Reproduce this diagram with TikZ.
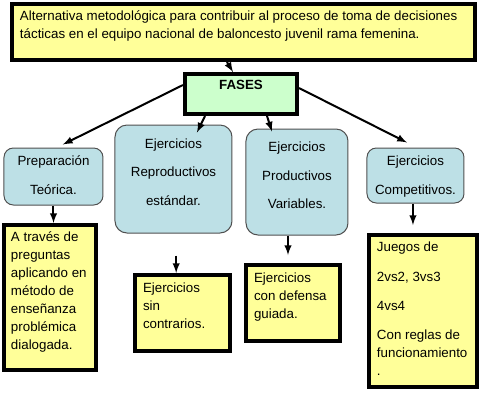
\documentclass[tikz,border=0pt]{standalone}
\usepackage{fontspec}
\setmainfont{Liberation Sans}
\usetikzlibrary{arrows}
\definecolor{amarillo}{RGB}{255,255,153}
\definecolor{verde}{RGB}{204,255,204}
\definecolor{celeste}{RGB}{189,224,230}
\definecolor{gris}{RGB}{80,80,80}
\newcommand{\caja}[3]{\parbox[c][#2][t]{#1}{\raggedright #3}}
\newcommand{\cajac}[3]{\parbox[c][#2][t]{#1}{\centering #3}}
\tikzset{every picture/.style={line width=0.75pt}}
\tikzset{
hoja/.style={draw, line width=3pt, fill=amarillo, inner xsep=6pt, inner ysep=5.25pt, font=\fontsize{10}{13.5}\selectfont},
fase/.style={draw, line width=3pt, fill=verde, inner xsep=0pt, inner ysep=4.5pt, font=\bfseries\fontsize{10}{12}\selectfont},
etapa/.style={draw=gris, line width=0.75pt, fill=celeste, rounded corners=7pt, inner xsep=0pt, font=\fontsize{10}{21.5}\selectfont},
flecha/.style={-latex, line width=1.5pt}}

\begin{document}
\begin{tikzpicture}[x=0.75pt,y=0.75pt,yscale=-1,xscale=1]
\useasboundingbox (0,0) rectangle (480,405);

%Title
\node[hoja] (titulo) at (243.5,32) {\caja{335.25pt}{31.5pt}{Alternativa metodológica para contribuir al proceso de toma de decisiones\\ tácticas en el equipo nacional de baloncesto juvenil rama femenina.}};
%Phases
\node[fase] (fases) at (241,94) {\cajac{84pt}{21pt}{FASES}};

%Level 2
\node[etapa, inner ysep=6pt] (prep) at (53.5,176.5) {\cajac{74.25pt}{30.75pt}{Preparación\\ Teórica.}};
\node[etapa, inner ysep=10pt, rounded corners=9pt] (repro) at (173.5,179) {\cajac{87.75pt}{61pt}{Ejercicios\\ Reproductivos\\ estándar.}};
\node[etapa, inner ysep=9.5pt, rounded corners=9pt] (produ) at (297,182) {\cajac{76.5pt}{60.5pt}{Ejercicios\\ Productivos\\ Variables.}};
\node[etapa, inner ysep=6pt] (compe) at (415.5,175.5) {\cajac{72.75pt}{29.25pt}{Ejercicios\\ Competitivos.}};

%Level 3
\node[hoja, inner xsep=5.25pt] (atraves) at (50,297.5) {\caja{58.5pt}{98.25pt}{A través de\\ preguntas\\ aplicando en\\ método de\\ enseñanza\\ problémica\\ dialogada.}};
\node[hoja, inner ysep=6pt] (sincont) at (182.5,313) {\caja{59.25pt}{45pt}{Ejercicios\\ sin\\ contrarios.}};
\node[hoja, inner ysep=6pt] (defensa) at (293,303) {\caja{58.5pt}{45pt}{Ejercicios\\ con defensa\\ guiada.}};
\node[hoja] (juegos) at (423,311) {\caja{69pt}{103.5pt}{Juegos de\\[8.5pt] 2vs2, 3vs3\\[8.5pt] 4vs4\\[8.5pt] Con reglas de\\ funcionamiento\\ .}};

%Arrows
\draw[flecha] ([xshift=-12.4pt]titulo.south) -- ([xshift=-6pt]fases.north);
\draw[flecha] ([yshift=-6.75pt]fases.west) -- ([xshift=7pt,yshift=-2.25pt]prep.north);
\draw[flecha] ([xshift=-27pt]fases.south) -- ([xshift=17.6pt,yshift=6pt]repro.north);
\draw[flecha] ([xshift=19.5pt]fases.south) -- ([xshift=-18.75pt,yshift=2.25pt]produ.north);
\draw[flecha] ([yshift=-4.5pt]fases.east) -- ([xshift=-6.4pt,yshift=-3.75pt]compe.north);
\draw[flecha] (prep.south) -- (prep.south |- atraves.north);
\draw[flecha] ([xshift=2pt,yshift=16.5pt]repro.south) -- ([xshift=2pt]repro.south |- sincont.north);
\draw[flecha] ([xshift=-6.75pt]produ.south) -- ([xshift=-6.75pt,yshift=-6pt]produ.south |- defensa.north);
\draw[flecha] ([xshift=-1.9pt]compe.south) -- ([xshift=-1.9pt,yshift=-6pt]compe.south |- juegos.north);

\end{tikzpicture}
\end{document}
